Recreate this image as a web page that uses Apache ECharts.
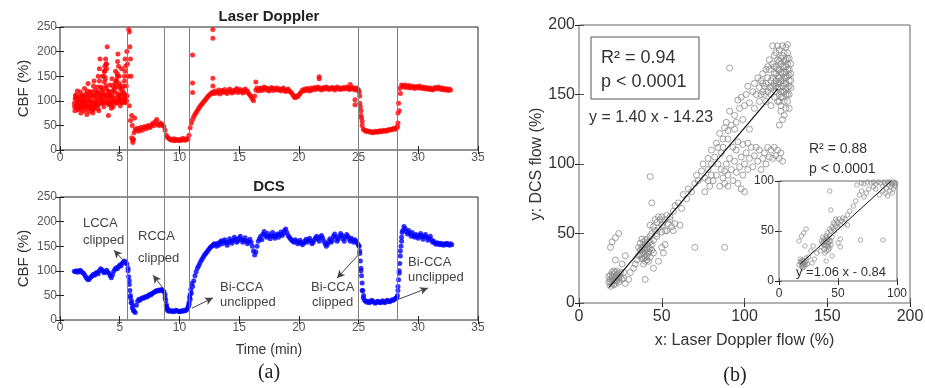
<!DOCTYPE html>
<html>
<head>
<meta charset="utf-8">
<script src="https://cdn.jsdelivr.net/npm/echarts@6/dist/echarts.min.js"></script>
<style>html,body{margin:0;background:#fff}#chart{width:925px;height:388px}</style>
</head>
<body>
<div id="chart"></div>
<script>
const timeStart = 1.2
const timeStep = 0.1

const ldValues = [
  95, 110, 88, 102, 92, 118, 85, 100, 96,
  105, 82, 120, 90, 78, 110, 95, 130, 88, 100,
  115, 92, 140, 105, 125, 98, 160, 112, 175, 100,
  92, 108, 85, 120, 100, 135, 95, 150, 110, 105,
  98, 125, 102, 140, 96, 110,
  150, 90, 60, 25, 20, 35, 42,
  40, 44, 38, 42, 46, 40, 45, 48, 43, 47, 50, 45, 48, 52, 55, 50, 58, 62, 52, 50, 55, 53, 50, 48,
  40, 30, 26, 24, 22,
  21, 20, 23, 19, 22, 20, 21, 19, 22, 20, 24, 21, 20, 23, 22,
  30, 45, 55, 62, 68, 72, 76, 80, 84, 88, 91, 94, 97, 100, 103, 106, 109, 112, 114, 116, 118,
  115, 120, 116, 118, 122, 114, 119, 121, 117, 123, 118, 115, 120, 124, 119, 116, 121, 118, 122, 125,
  117, 120, 123, 119, 116, 121, 124, 118, 120, 115, 112, 108, 104,
  100, 110, 122, 126,
  120, 124, 126, 121, 125, 128, 122, 126, 124, 120, 123, 127, 125, 121, 124, 126, 122, 125, 123, 120,
  124, 126, 121, 119, 122, 124, 120, 118, 116,
  112, 108, 106, 110, 108, 112, 115,
  118, 122, 120, 124, 121, 125, 123, 120, 126, 122, 124, 127, 123, 125, 128, 124, 126, 122, 125, 127,
  124, 128, 125, 123, 126, 124, 127, 125, 122, 126, 128, 124, 126, 123, 125, 127, 124, 126, 128, 125,
  123, 126, 124, 127, 125, 122, 126, 124,
  122, 95, 70, 50, 42,
  40, 38, 39, 37, 38, 36, 37, 35, 36, 38, 37, 36, 38, 39, 37, 38, 40, 39, 38, 40, 41, 40, 42, 41, 43, 44, 42, 45,
  55, 80, 115, 132,
  130, 128, 132, 127, 129, 131, 126, 128, 130, 127, 125, 129, 128, 126, 130, 127, 125, 128, 126, 124,
  127, 125, 123, 126, 124, 122, 125, 127, 124, 126, 128, 125, 123, 126, 124, 122, 125, 123, 121, 124, 122
]

// dense early laser doppler band, two extra samples per 0.1 min (1.22 + 0.1i and 1.27 + 0.1i)
const ldBandA = [
  88, 112, 96, 106, 84, 100, 93, 108, 86, 114, 98, 88, 104, 118, 92, 100, 84, 122, 96, 106, 118, 94,
  128, 102, 115, 138, 108, 96, 120, 104, 112, 92, 130, 106, 98, 142, 115, 100, 125, 108, 96, 118, 104, 112
]
const ldBandB = [
  104, 90, 82, 96, 110, 88, 102, 80, 98, 90, 108, 115, 86, 96, 110, 82, 112, 94, 118, 84, 100, 112,
  96, 120, 88, 104, 125, 112, 94, 132, 98, 110, 100, 118, 128, 96, 108, 135, 100, 116, 130, 98, 110, 100
]

// extra laser doppler points: spikes and fast transitions
const ldExtra = [
  [1.25, 80], [1.35, 105], [1.45, 120], [1.55, 85], [1.65, 98], [1.75, 75], [1.85, 112], [1.95, 90],
  [2.05, 125], [2.15, 95], [2.25, 72], [2.35, 135], [2.45, 100], [2.55, 85], [2.65, 118], [2.75, 75],
  [2.85, 140], [2.95, 108], [3.05, 90], [3.15, 128], [3.25, 80], [3.35, 185], [3.45, 110], [3.55, 150],
  [3.65, 95], [3.75, 170], [3.85, 130], [3.95, 210], [4.05, 70], [4.15, 118], [4.25, 95], [4.35, 145],
  [4.45, 88], [4.55, 125], [4.65, 160], [4.75, 100], [4.85, 195], [4.95, 130], [5.05, 90], [5.15, 165],
  [5.25, 115], [5.35, 100], [5.45, 185], [5.55, 130], [5.6, 200], [5.65, 175],
  [3.7, 150], [3.75, 160], [3.8, 145], [3.85, 175], [3.9, 165], [3.82, 185], [4.7, 140], [4.8, 155],
  [4.9, 170], [4.95, 150], [4.82, 180], [5.4, 150], [5.45, 160], [5.5, 170], [3.2, 150], [3.3, 165],
  [5.75, 245], [5.8, 240], [5.85, 210], [5.9, 185], [5.95, 150], [6.0, 70], [6.05, 50], [6.1, 15],
  [6.15, 22], [6.25, 65],
  [11.1, 193], [11.1, 136], [11.1, 117], [12.8, 245], [12.8, 227], [12.8, 146], [12.8, 130],
  [16.4, 138], [21.7, 149], [21.7, 145], [24.3, 133],
  [24.7, 102], [24.7, 92], [25.05, 118], [25.1, 110], [25.15, 88], [25.2, 80], [25.25, 65], [25.3, 58],
  [28.25, 48], [28.3, 75], [28.35, 95], [28.45, 125]
]

const dcsValues = [
  99, 98, 100, 97, 99, 101, 98, 96, 94,
  90, 86, 83, 82, 85, 88,
  90, 93, 91, 95, 97, 94, 100, 104, 102,
  99, 96, 98, 101, 97, 95,
  90, 86, 92, 99, 103,
  106, 104, 108, 112, 110, 115, 118, 120, 117, 114,
  105, 80, 50, 38, 30, 18, 15,
  30, 38, 42, 40, 43, 45, 44, 46, 48, 47, 50, 52, 51, 54, 55, 57, 58, 60, 59, 61, 60, 62, 60, 58,
  45, 28, 20, 18, 19,
  18, 19, 17, 18, 20, 19, 18, 17, 18, 19, 18, 20, 19, 21,
  25, 32, 42, 55, 68, 80, 90, 98, 105, 110, 115, 120, 124, 128, 132, 135, 138, 142, 145, 148, 150, 152, 155, 154,
  150, 156, 152, 158, 161, 155, 160, 163, 157, 152, 158, 165, 160, 156, 162, 168, 164, 158, 161, 166,
  170, 163, 158, 162, 167, 160, 155, 159, 164, 158,
  150, 140, 132, 138, 150,
  160, 165, 170, 163, 175, 180, 172, 168, 176, 170, 165, 172, 178, 170, 166, 172, 175, 168, 174, 179,
  172, 176, 182, 185, 178, 172, 168, 165,
  162, 160, 158, 163, 160, 155, 158, 162, 157, 153, 156, 160, 164, 158, 162, 166, 160, 155, 158, 163,
  167, 170, 165, 160, 168, 172, 166, 160, 155, 150, 154, 160, 165, 158, 162, 170, 175, 168, 160, 164,
  170, 176, 172, 165, 160, 168, 174,
  170, 165, 160, 166, 162, 158, 163, 160, 156, 152,
  140, 100, 60, 45,
  40, 38, 36, 38, 35, 37, 40, 38, 36, 34, 36, 38, 37, 35, 36, 39, 37, 35, 38, 40, 38, 37, 39, 41, 40, 42, 44, 45,
  60, 95, 130, 160, 182, 190,
  186, 180, 175, 182, 176, 170, 178, 172, 168, 174, 170, 166, 172, 176, 169, 164, 170, 174, 168, 162,
  166, 170, 163, 158, 160, 156, 154, 157, 155, 153, 156, 154, 152, 155, 153, 156, 154, 152, 155, 153
]

const dcsExtra = [
  [5.7, 100], [5.75, 88], [5.8, 72], [5.85, 60], [5.9, 45], [5.95, 35], [6.05, 25], [6.15, 20],
  [8.8, 52], [8.85, 40], [8.9, 32], [8.95, 25], [9.05, 22],
  [10.75, 28], [10.8, 36], [10.85, 46], [10.9, 52], [10.95, 62], [11.05, 74],
  [25.05, 150], [25.1, 135], [25.15, 120], [25.2, 105], [25.25, 90], [25.3, 75], [25.35, 60], [25.42, 50],
  [28.25, 50], [28.3, 68], [28.35, 82], [28.4, 100], [28.45, 115], [28.5, 140], [28.55, 150],
  [28.6, 168], [28.65, 178]
]

const eventTimes = [5.6, 8.75, 10.8, 25.0, 28.2]

// annotation arrows in DCS coordinates: [tail, head]
const arrowCoords = [
  [[5.27, 122], [4.52, 142]],
  [[8.62, 65], [7.79, 91]],
  [[11.05, 24], [12.81, 45]],
  [[25.12, 136], [23.19, 85]],
  [[28.22, 41], [30.81, 65]]
]

const scatterMain = [
  [18, 15], [19, 17], [20, 14], [20, 19], [21, 16], [21, 21], [22, 18], [22, 14], [23, 20], [23, 16],
  [24, 18], [19, 20], [20, 22], [22, 22], [24, 15], [25, 19], [21, 13], [18, 19], [23, 23], [26, 17],
  [25, 22], [27, 18], [19, 12], [20, 17], [21, 19], [22, 16], [23, 18], [19, 15], [24, 21], [21, 23],
  [19, 40], [20, 44], [22, 47], [24, 50], [22, 31], [28, 34], [28, 14], [27, 22], [30, 17], [26, 28],
  [36, 34], [37, 38], [38, 32], [38, 40], [39, 36], [39, 44], [40, 30], [40, 38], [40, 42], [41, 34],
  [41, 46], [42, 36], [42, 40], [43, 33], [43, 44], [44, 38], [37, 43], [38, 46], [39, 28], [41, 39],
  [42, 30], [44, 42], [45, 36], [36, 40], [40, 35], [43, 48], [38, 35], [42, 44], [45, 45], [35, 31],
  [34, 28], [33, 25], [31, 22], [39, 40], [40, 33], [41, 42], [42, 37], [38, 38], [40, 45], [43, 39],
  [37, 35], [41, 31], [39, 32],
  [44, 50], [45, 55], [46, 52], [47, 58], [48, 54], [49, 60], [50, 56], [50, 62], [51, 58], [52, 60],
  [53, 63], [54, 57], [48, 62], [46, 60], [52, 52], [55, 60], [47, 50], [56, 55], [43, 56], [50, 51], [53, 52],
  [43, 91], [44, 72], [51, 36], [70, 40], [88, 40], [61, 56], [40, 17], [47, 48], [52, 42], [50, 40],
  [45, 25], [48, 30], [57, 52], [58, 57],
  [55, 62], [57, 66], [58, 70], [60, 72], [62, 68], [63, 78], [65, 75], [66, 82], [68, 80], [70, 86],
  [71, 92], [72, 88], [74, 95], [75, 100], [76, 90], [78, 104], [78, 96], [80, 110], [80, 100], [82, 105],
  [83, 115], [84, 112], [85, 122], [86, 108], [87, 118], [88, 126], [89, 130], [90, 124], [91, 138], [92, 128],
  [94, 135], [95, 130], [96, 146], [97, 140], [98, 148], [100, 142], [101, 150], [102, 156], [103, 144],
  [105, 152], [106, 158], [107, 150], [108, 162], [109, 155], [110, 160], [111, 165], [112, 156], [113, 168],
  [76, 80], [79, 84], [81, 88], [83, 92], [85, 84], [86, 96], [87, 90], [88, 86], [89, 100], [90, 92],
  [90, 84], [91, 104], [92, 96], [93, 88], [94, 102], [95, 94], [95, 110], [96, 86], [97, 98], [98, 105],
  [98, 82], [99, 92], [100, 100], [100, 80], [101, 108], [102, 96], [103, 104], [104, 112], [105, 98],
  [106, 106], [107, 112], [108, 102], [109, 110], [110, 96], [111, 104], [112, 108], [113, 100], [114, 112],
  [115, 105], [116, 110], [117, 104], [118, 112], [119, 106], [120, 110], [121, 104], [122, 108], [123, 102],
  [93, 112], [96, 116], [99, 114], [102, 115], [88, 95], [84, 100], [80, 92], [78, 88],
  [112, 150], [113, 158], [114, 152], [114, 162], [115, 155], [115, 168], [116, 150], [116, 160], [117, 172],
  [117, 156], [118, 148], [118, 165], [118, 178], [119, 152], [119, 160], [119, 170], [120, 145], [120, 155],
  [120, 163], [120, 175], [121, 150], [121, 158], [121, 168], [121, 182], [122, 142], [122, 152], [122, 160],
  [122, 172], [123, 148], [123, 156], [123, 165], [123, 178], [123, 185], [124, 145], [124, 152], [124, 162],
  [124, 170], [124, 180], [125, 140], [125, 150], [125, 158], [125, 166], [125, 175], [125, 184], [126, 145],
  [126, 155], [126, 163], [126, 172], [126, 180], [127, 150], [127, 160], [127, 168], [127, 176], [128, 155],
  [128, 165], [128, 172], [122, 138], [124, 135], [121, 128], [110, 150], [111, 158], [109, 145], [113, 145],
  [115, 175], [119, 180], [117, 185], [120, 185], [126, 186], [123, 132], [127, 140], [116, 142], [111, 152],
  [114, 170],
  [118, 158], [119, 165], [120, 168], [121, 162], [122, 166], [123, 160], [124, 166], [125, 162], [126, 168],
  [121, 155], [122, 148], [123, 152], [124, 158], [125, 154], [126, 150], [127, 156], [118, 170], [120, 158],
  [122, 176], [124, 174], [126, 176], [123, 170], [121, 174], [125, 170], [127, 164], [128, 160], [117, 162],
  [116, 155], [119, 156], [121, 145],
  [91, 169], [106, 140], [103, 125], [99, 132], [94, 125], [90, 118], [87, 112]
]

const fitMain = [[18, 11], [120, 154]]

const scatterInset = [
  [17, 16], [18, 19], [19, 15], [19, 20], [20, 17], [20, 21], [21, 18], [21, 14], [22, 19], [22, 16],
  [23, 20], [18, 22], [24, 17], [20, 13], [23, 23], [19, 18], [21, 20], [22, 17], [20, 15],
  [17, 40], [19, 45], [21, 48], [23, 52], [22, 35], [27, 30], [25, 24], [28, 18], [30, 22], [32, 28], [29, 35],
  [36, 34], [37, 38], [38, 32], [38, 42], [39, 36], [40, 30], [40, 40], [40, 45], [41, 35], [41, 48],
  [42, 38], [42, 42], [43, 33], [43, 46], [44, 40], [37, 44], [39, 28], [44, 36], [45, 44], [36, 40],
  [38, 36], [42, 31], [35, 30], [39, 40], [40, 36], [41, 42], [42, 35], [38, 39], [40, 43], [43, 40],
  [44, 50], [45, 54], [46, 52], [47, 57], [48, 55], [49, 60], [50, 58], [51, 62], [52, 56], [53, 60],
  [48, 62], [46, 58], [50, 54], [54, 63], [55, 58], [43, 52], [47, 50],
  [43, 90], [44, 71], [52, 34], [69, 41], [88, 41], [58, 56], [40, 20], [50, 38], [45, 25], [52, 42],
  [56, 62], [58, 66], [60, 70], [63, 75], [65, 80], [68, 86], [70, 90], [72, 84], [74, 88], [76, 92],
  [66, 96], [70, 98], [72, 97], [75, 99], [78, 98], [80, 99], [82, 97], [84, 99], [86, 98], [88, 95],
  [89, 99], [90, 97], [91, 93], [92, 99], [93, 96], [94, 99], [95, 94], [95, 98], [96, 97], [97, 99],
  [98, 95], [98, 98], [99, 97], [90, 88], [92, 85], [94, 90], [96, 88], [88, 90], [85, 86], [97, 92],
  [80, 94], [82, 92]
]

const fitInset = [[18, 17], [95, 100]]

const timeTicks = { min: 0, max: 35, interval: 5 }
const cbfTicks = { min: 0, max: 250, interval: 50 }
const flowTicks = { min: 0, max: 200, interval: 50 }
const insetTicks = { min: 0, max: 100, interval: 50 }

const FONT = 'Liberation Sans, Arial, sans-serif'

function traceData (values, start) {
  return values.map((v, i) => [+(start + i * timeStep).toFixed(2), v])
}

function axis (gridIndex, ticks, opts) {
  return Object.assign({
    type: 'value',
    gridIndex,
    min: ticks.min,
    max: ticks.max,
    interval: ticks.interval,
    axisLine: { show: false },
    axisTick: { show: true, inside: true, length: 4, lineStyle: { color: '#222', width: 1 } },
    axisLabel: { show: true, color: '#555', fontSize: 12, fontFamily: FONT, margin: 3, showMinLabel: true, showMaxLabel: true },
    splitLine: { show: false }
  }, opts)
}

function mirror (gridIndex, ticks, position) {
  return axis(gridIndex, ticks, { position, axisLabel: { show: false } })
}

const boxGrid = (left, top, width, height, border) => ({
  left, top, width, height,
  show: true, borderColor: border, borderWidth: 1, backgroundColor: 'transparent',
  containLabel: false, outerBoundsMode: 'none'
})

const chart = echarts.init(document.getElementById('chart'), null, { renderer: 'canvas' })

const txt = (x, y, text, font, extra) => ({
  type: 'text', x, y, silent: true, z: 100,
  style: Object.assign({ text, font, fill: '#444', align: 'left', verticalAlign: 'middle' }, extra)
})

const label = (size, color, margin) => ({
  color, fontSize: size, fontFamily: FONT, margin, showMinLabel: true, showMaxLabel: true, hideOverlap: false
})

const option = {
  animation: false,
  backgroundColor: '#fff',
  textStyle: { fontFamily: FONT },
  grid: [
    boxGrid(60, 27, 418, 123, '#222'),
    boxGrid(60, 197, 418, 123, '#222'),
    { left: 60, top: 27, width: 418, height: 293, show: false, outerBoundsMode: 'none' },
    boxGrid(579, 25, 331, 278, '#666'),
    Object.assign(boxGrid(779, 181, 118, 100, '#666'), { backgroundColor: '#fff', z: 5 })
  ],
  xAxis: [
    axis(0, timeTicks, { axisLabel: label(12, '#555', 2) }),
    mirror(0, timeTicks, 'top'),
    axis(1, timeTicks, {
      axisLabel: label(12, '#555', 2),
      name: 'Time (min)', nameLocation: 'middle', nameGap: 23,
      nameTextStyle: { color: '#333', fontSize: 14, fontFamily: FONT }
    }),
    mirror(1, timeTicks, 'top'),
    axis(2, timeTicks, { show: false }),
    axis(3, flowTicks, {
      axisLabel: label(16, '#333', 6),
      axisTick: { show: true, inside: true, length: 5, lineStyle: { color: '#555' } },
      name: 'x: Laser Doppler flow (%)', nameLocation: 'middle', nameGap: 30,
      nameTextStyle: { color: '#333', fontSize: 16, fontFamily: FONT }
    }),
    mirror(3, flowTicks, 'top'),
    axis(4, insetTicks, {
      z: 6,
      axisLabel: label(12, '#333', 7),
      axisTick: { show: true, inside: true, length: 3, lineStyle: { color: '#555' } }
    }),
    Object.assign(mirror(4, insetTicks, 'top'), { z: 6 })
  ],
  yAxis: [
    axis(0, cbfTicks, {
      name: 'CBF (%)', nameLocation: 'middle', nameGap: 29,
      nameTextStyle: { color: '#333', fontSize: 15, fontFamily: FONT }
    }),
    mirror(0, cbfTicks, 'right'),
    axis(1, cbfTicks, {
      name: 'CBF (%)', nameLocation: 'middle', nameGap: 29,
      nameTextStyle: { color: '#333', fontSize: 15, fontFamily: FONT }
    }),
    mirror(1, cbfTicks, 'right'),
    axis(2, { min: 0, max: 1, interval: 1 }, { show: false }),
    axis(3, flowTicks, {
      axisLabel: label(16, '#333', 4),
      axisTick: { show: true, inside: true, length: 5, lineStyle: { color: '#555' } },
      name: 'y: DCS flow (%)', nameLocation: 'middle', nameGap: 31,
      nameTextStyle: { color: '#333', fontSize: 16, fontFamily: FONT }
    }),
    mirror(3, flowTicks, 'right'),
    axis(4, insetTicks, {
      z: 6,
      axisLabel: label(12, '#333', 5),
      axisTick: { show: true, inside: true, length: 3, lineStyle: { color: '#555' } }
    }),
    Object.assign(mirror(4, insetTicks, 'right'), { z: 6 })
  ],
  series: [
    {
      name: 'Laser Doppler', type: 'scatter', xAxisIndex: 0, yAxisIndex: 0,
      symbolSize: 5, itemStyle: { color: '#ff0000' },
      data: traceData(ldValues, timeStart)
        .concat(traceData(ldBandA, timeStart + 0.02))
        .concat(traceData(ldBandB, timeStart + 0.07))
        .concat(ldExtra)
    },
    {
      name: 'DCS', type: 'scatter', xAxisIndex: 2, yAxisIndex: 2,
      symbolSize: 5, itemStyle: { color: '#0000ff' },
      data: traceData(dcsValues, timeStart).concat(dcsExtra),
      markLine: {
        silent: true, animation: false,
        symbol: ['none', 'arrow'], symbolSize: [6, 8],
        label: { show: false },
        lineStyle: { color: '#444', width: 1, type: 'solid' },
        data: arrowCoords.map(([a, b]) => [{ coord: a }, { coord: b }])
      }
    },
    {
      name: 'events', type: 'scatter', xAxisIndex: 4, yAxisIndex: 4, data: [],
      markLine: {
        silent: true, animation: false, symbol: ['none', 'none'],
        label: { show: false },
        lineStyle: { color: '#808080', width: 1, type: 'solid' },
        data: eventTimes.map(t => ({ xAxis: t }))
      }
    },
    {
      name: 'main', type: 'scatter', xAxisIndex: 5, yAxisIndex: 5, z: 2,
      symbol: 'circle', symbolSize: 6,
      itemStyle: { color: 'rgba(0,0,0,0)', borderColor: '#8c8c8c', borderWidth: 1 },
      data: scatterMain
    },
    {
      name: 'main fit', type: 'line', xAxisIndex: 5, yAxisIndex: 5, z: 3,
      showSymbol: false, lineStyle: { color: '#111', width: 1.2 }, data: fitMain
    },
    {
      name: 'inset', type: 'scatter', xAxisIndex: 7, yAxisIndex: 7, z: 7,
      symbol: 'circle', symbolSize: 4.5,
      itemStyle: { color: 'rgba(0,0,0,0)', borderColor: '#8c8c8c', borderWidth: 0.9 },
      data: scatterInset
    },
    {
      name: 'inset fit', type: 'line', xAxisIndex: 7, yAxisIndex: 7, z: 8,
      showSymbol: false, lineStyle: { color: '#111', width: 1 }, data: fitInset
    }
  ],
  graphic: {
    elements: [
      txt(269, 17, 'Laser Doppler', 'bold 15px ' + FONT, { align: 'center', fill: '#222' }),
      txt(269, 187, 'DCS', 'bold 15px ' + FONT, { align: 'center', fill: '#222' }),
      txt(83, 223, 'LCCA', '13px ' + FONT),
      txt(83, 240, 'clipped', '13px ' + FONT),
      txt(138, 236, 'RCCA', '13px ' + FONT),
      txt(138, 258, 'clipped', '13px ' + FONT),
      txt(220, 287, 'Bi-CCA', '13px ' + FONT),
      txt(220, 302, 'unclipped', '13px ' + FONT),
      txt(311, 287, 'Bi-CCA', '13px ' + FONT),
      txt(312, 302, 'clipped', '13px ' + FONT),
      txt(408, 262, 'Bi-CCA', '13px ' + FONT),
      txt(408, 277, 'unclipped', '13px ' + FONT),
      txt(269, 373, '(a)', '20px Liberation Serif, DejaVu Serif, serif', { align: 'center', fill: '#222' }),
      txt(735, 376, '(b)', '20px Liberation Serif, DejaVu Serif, serif', { align: 'center', fill: '#222' }),
      {
        type: 'rect', silent: true, z: 100,
        shape: { x: 591, y: 37, width: 108, height: 62 },
        style: { fill: 'none', stroke: '#555', lineWidth: 1 }
      },
      txt(601, 58, 'R² = 0.94', '18px ' + FONT, { fill: '#333' }),
      txt(601, 82, 'p < 0.0001', '18px ' + FONT, { fill: '#333' }),
      txt(589, 118, 'y = 1.40 x - 14.23', '16px ' + FONT, { fill: '#333' }),
      txt(809, 149, 'R² = 0.88', '14px ' + FONT, { fill: '#333' }),
      txt(809, 169, 'p < 0.0001', '14px ' + FONT, { fill: '#333' }),
      txt(796, 272, 'y =1.06 x - 0.84', '13px ' + FONT, { fill: '#333' })
    ]
  }
}

chart.setOption(option)
</script>
</body>
</html>
